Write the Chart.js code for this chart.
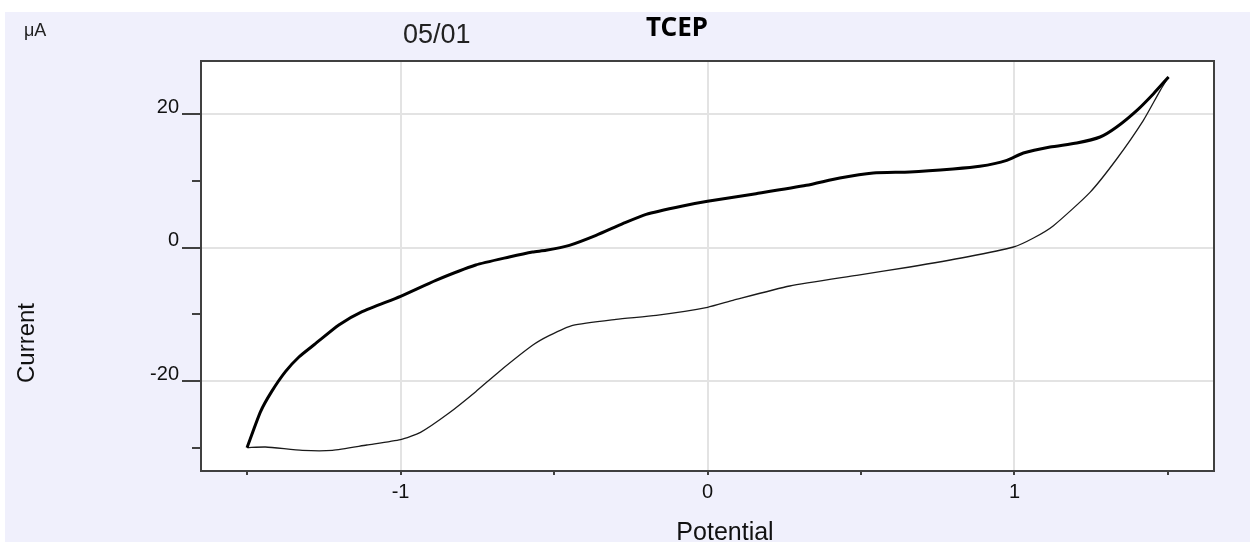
<!DOCTYPE html>
<html>
<head>
<meta charset="utf-8">
<script src="https://cdn.jsdelivr.net/npm/chart.js@4/dist/chart.umd.min.js"></script>
<style>
  html, body { margin: 0; padding: 0; background: #fff; }
  #wrap { width: 1250px; height: 542px; }
</style>
</head>
<body>
<div id="wrap"><canvas id="cv" width="1250" height="542"></canvas></div>
<script>
// forward scan (thick line): potential (V) and current (µA)
const forwardPotential = [-1.50, -1.456, -1.42, -1.375, -1.331, -1.277, -1.201, -1.125, -1.0, -0.885,
  -0.755, -0.646, -0.57, -0.526, -0.45, -0.363, -0.276, -0.2, -0.081, 0, 0.158, 0.322, 0.431, 0.54,
  0.659, 0.80, 0.887, 0.975, 1.029, 1.116, 1.203, 1.279, 1.333, 1.399, 1.453, 1.502];
const forwardCurrent = [-30, -24.6, -21.6, -18.6, -16.4, -14.4, -11.6, -9.6, -7.3, -4.9,
  -2.6, -1.4, -0.65, -0.4, 0.35, 1.85, 3.6, 5.0, 6.25, 6.95, 8.1, 9.35, 10.45, 11.2,
  11.35, 11.8, 12.2, 13.1, 14.2, 15.1, 15.7, 16.6, 18.1, 20.6, 23.1, 25.6];

// reverse scan (thin line)
const reversePotential = [1.502, 1.475, 1.42, 1.333, 1.246, 1.127, 1.062, 0.997, 0.844, 0.659,
  0.486, 0.268, 0.083, 0, -0.167, -0.298, -0.439, -0.516, -0.57, -0.679, -0.755, -0.842,
  -0.935, -1.0, -1.11, -1.222, -1.32, -1.44, -1.50];
const reverseCurrent = [25.6, 23.6, 19.1, 13.3, 8.3, 3.3, 1.45, 0.1, -1.4, -2.9,
  -4.15, -5.75, -7.9, -8.95, -10.15, -10.75, -11.65, -13.2, -14.65, -18.6, -21.6, -24.8,
  -27.7, -28.8, -29.6, -30.4, -30.4, -29.9, -30];

const xLabelTicks = [-1, 0, 1];
const yLabelTicks = [-20, 0, 20];

const FONT = "'Liberation Sans', Arial, sans-serif";

function toPoints(xs, ys) {
  return xs.map((x, i) => ({ x: x, y: ys[i] }));
}

// background, frame, y tick marks and the loose texts
const decor = {
  id: "decor",
  beforeDraw(chart) {
    const ctx = chart.ctx;
    const a = chart.chartArea;
    ctx.save();
    ctx.fillStyle = "#ffffff";
    ctx.fillRect(0, 0, chart.width, chart.height);
    ctx.fillStyle = "#f0f0fc";
    ctx.fillRect(5, 12, chart.width - 5, chart.height - 12);
    ctx.fillStyle = "#ffffff";
    ctx.fillRect(a.left, a.top, a.right - a.left, a.bottom - a.top);
    ctx.restore();
  },
  afterDraw(chart) {
    const ctx = chart.ctx;
    const a = chart.chartArea;
    const ys = chart.scales.y;
    ctx.save();
    ctx.strokeStyle = "#404040";
    ctx.lineWidth = 2;
    ctx.strokeRect(a.left, a.top, a.right - a.left, a.bottom - a.top);

    // y ticks: long ones at labelled values, short ones in between
    ys.ticks.forEach((t) => {
      const py = Math.round(ys.getPixelForValue(t.value));
      const len = yLabelTicks.includes(t.value) ? 19 : 9;
      ctx.beginPath();
      ctx.moveTo(a.left - len, py);
      ctx.lineTo(a.left, py);
      ctx.stroke();
    });

    ctx.fillStyle = "#222";
    ctx.textBaseline = "alphabetic";
    ctx.textAlign = "left";
    ctx.font = "18px " + FONT;
    ctx.fillText("μA", 24, 36);
    ctx.font = "27px " + FONT;
    ctx.fillText("05/01", 403, 43);
    ctx.fillStyle = "#000";
    ctx.font = "bold 26px 'Noto Sans', sans-serif";
    ctx.fillText("TCEP", 646, 36);

    ctx.fillStyle = "#111";
    ctx.font = "25px " + FONT;
    ctx.textAlign = "center";
    ctx.fillText("Potential", 725, 540);
    ctx.translate(34, 343);
    ctx.rotate(-Math.PI / 2);
    ctx.font = "24px " + FONT;
    ctx.fillText("Current", 0, 0);
    ctx.restore();
  }
};

new Chart(document.getElementById("cv"), {
  type: "scatter",
  data: {
    datasets: [
      {
        label: "forward",
        data: toPoints(forwardPotential, forwardCurrent),
        showLine: true,
        borderColor: "#000",
        borderWidth: 3,
        pointRadius: 0,
        tension: 0.2
      },
      {
        label: "reverse",
        data: toPoints(reversePotential, reverseCurrent),
        showLine: true,
        borderColor: "#1a1a1a",
        borderWidth: 1.3,
        pointRadius: 0,
        tension: 0.2
      }
    ]
  },
  options: {
    responsive: false,
    animation: false,
    layout: { padding: { left: 0, right: 36, top: 61, bottom: 0 } },
    plugins: { legend: { display: false }, tooltip: { enabled: false } },
    scales: {
      x: {
        type: "linear",
        min: -1.65,
        max: 1.65,
        afterFit(scale) { scale.height = 71; },
        border: { display: false },
        grid: {
          color: (c) => (c.tick && xLabelTicks.includes(c.tick.value) ? "#e3e3e3" : "rgba(0,0,0,0)"),
          lineWidth: 2,
          tickColor: "#404040",
          tickLength: 4,
          tickWidth: 2
        },
        ticks: {
          stepSize: 0.5,
          includeBounds: false,
          maxRotation: 0,
          autoSkip: false,
          padding: 5,
          color: "#111",
          font: { family: FONT, size: 20 },
          callback: (v) => (xLabelTicks.includes(v) ? String(v) : "")
        }
      },
      y: {
        type: "linear",
        min: -33.5,
        max: 28,
        afterFit(scale) { scale.width = 201; },
        border: { display: false },
        grid: {
          color: (c) => (c.tick && yLabelTicks.includes(c.tick.value) ? "#e3e3e3" : "rgba(0,0,0,0)"),
          lineWidth: 2,
          drawTicks: false
        },
        ticks: {
          stepSize: 10,
          includeBounds: false,
          autoSkip: false,
          padding: 22,
          labelOffset: -7,
          color: "#111",
          font: { family: FONT, size: 20 },
          callback: (v) => (yLabelTicks.includes(v) ? String(v) : "")
        }
      }
    }
  },
  plugins: [decor]
});
</script>
</body>
</html>
